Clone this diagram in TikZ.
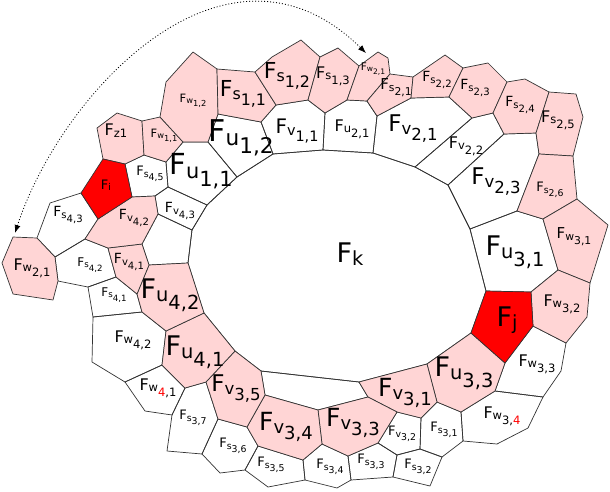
\documentclass[tikz,border=0pt]{standalone}
\usepackage{fontspec}
\setmainfont{DejaVu Sans}
\usepackage{graphicx}
\usetikzlibrary{arrows.meta}
\definecolor{facepink}{RGB}{255,213,213}
\definecolor{edgegray}{RGB}{51,51,51}
\newcommand{\fc}[2]{F\raisebox{-.12em}{\scalebox{.72}{#1\raisebox{-.38em}{#2}}}}

\begin{document}
\begin{tikzpicture}[x=1pt,y=-1pt,
	face/.style={draw=edgegray,line width=0.7pt,line join=round},
	pink/.style={face,fill=facepink},
	hot/.style={face,fill=red},
	lbl/.style={font=\fontsize{#1}{#1}\selectfont,inner sep=0pt}]
\useasboundingbox (0,0) rectangle (610,491);

	\begin{scope}[every path/.style={face}]
		\draw (373,153) -- (415,167) -- (448,185) -- (470,229) -- (486,291) -- (471,333) -- (427,364) -- (359,382) -- (261,371) -- (235,351) -- (204,313) -- (188,263) -- (192,230) -- (207,205) -- (237,177) -- (273,154) -- (323,150) -- cycle;
		\draw (158,214) -- (192,230) -- (188,263) -- (149,265) -- (142,244) -- cycle;
		\draw (261,371) -- (359,382) -- (368,397) -- (318,410) -- (265,395) -- cycle;
		\draw (125,164) -- (144,155) -- (166,162) -- (168,187) -- (155,196) -- (132,197) -- cycle;
		\draw (155,196) -- (168,187) -- (207,205) -- (192,230) -- (158,214) -- cycle;
		\draw (166,162) -- (183,142) -- (208,142) -- (237,177) -- (207,205) -- (168,187) -- cycle;
		\draw (218,114) -- (261,122) -- (273,154) -- (237,177) -- (208,142) -- cycle;
		\draw (261,122) -- (276,105) -- (308,100) -- (325,113) -- (323,150) -- (273,154) -- cycle;
		\draw (325,113) -- (347,100) -- (367,101) -- (377,116) -- (373,153) -- (323,150) -- cycle;
		\draw (377,116) -- (411,98) -- (449,97) -- (472,118) -- (415,167) -- (373,153) -- cycle;
		\draw (415,167) -- (472,118) -- (493,113) -- (504,134) -- (448,185) -- cycle;
		\draw (448,185) -- (504,134) -- (536,133) -- (539,154) -- (517,211) -- (470,229) -- cycle;
		\draw (470,229) -- (517,211) -- (543,219) -- (558,270) -- (531,292) -- (486,291) -- cycle;
		\draw (505,363) -- (533,326) -- (566,343) -- (561,371) -- (543,397) -- (495,391) -- cycle;
		\draw (495,391) -- (543,397) -- (528,428) -- (497,444) -- (463,441) -- (461,412) -- cycle;
		\draw (421,418) -- (437,402) -- (461,412) -- (463,441) -- (442,457) -- (420,449) -- cycle;
		\draw (397,412) -- (421,418) -- (420,449) -- (397,455) -- (378,443) -- cycle;
		\draw (397,455) -- (420,449) -- (442,457) -- (430,486) -- (393,477) -- cycle;
		\draw (378,443) -- (397,455) -- (393,477) -- (351,480) -- (348,456) -- cycle;
		\draw (303,460) -- (322,444) -- (348,456) -- (351,480) -- (337,488) -- (305,480) -- cycle;
		\draw (245,470) -- (258,446) -- (303,460) -- (305,480) -- (268,487) -- cycle;
		\draw (202,454) -- (218,419) -- (247,427) -- (258,446) -- (245,470) -- (220,473) -- cycle;
		\draw (172,415) -- (185,388) -- (206,382) -- (218,419) -- (202,454) -- (167,451) -- cycle;
		\draw (125,382) -- (162,365) -- (185,388) -- (172,415) -- (145,411) -- cycle;
		\draw (93,317) -- (142,312) -- (166,331) -- (162,365) -- (125,382) -- (92,362) -- cycle;
		\draw (88,287) -- (116,277) -- (137,294) -- (142,312) -- (93,317) -- cycle;
		\draw (55,257) -- (85,239) -- (108,248) -- (116,277) -- (88,287) -- (58,281) -- cycle;
		\draw (50,203) -- (81,193) -- (98,219) -- (85,239) -- (55,257) -- (37,238) -- cycle;
	\end{scope}

	\begin{scope}[every path/.style={pink}]
		\draw (97,128) -- (117,113) -- (142,121) -- (144,155) -- (125,164) -- (103,159) -- cycle;
		\draw (142,121) -- (160,117) -- (183,142) -- (166,162) -- (144,155) -- cycle;
		\draw (193,52) -- (217,69) -- (218,114) -- (208,142) -- (183,142) -- (160,117) -- (166,82) -- cycle;
		\draw (217,69) -- (255,72) -- (276,105) -- (261,122) -- (218,114) -- cycle;
		\draw (255,72) -- (272,57) -- (301,40) -- (320,57) -- (308,100) -- (276,105) -- cycle;
		\draw (320,57) -- (338,48) -- (359,66) -- (347,100) -- (325,113) -- (308,100) -- cycle;
		\draw (359,66) -- (378,52) -- (388,58) -- (390,74) -- (367,101) -- (347,100) -- cycle;
		\draw (367,101) -- (390,74) -- (413,77) -- (411,98) -- (377,116) -- cycle;
		\draw (413,77) -- (445,55) -- (463,68) -- (449,97) -- (411,98) -- cycle;
		\draw (463,68) -- (488,63) -- (507,82) -- (493,113) -- (472,118) -- (449,97) -- cycle;
		\draw (507,82) -- (525,79) -- (549,92) -- (536,133) -- (504,134) -- (493,113) -- cycle;
		\draw (549,92) -- (576,94) -- (583,117) -- (573,156) -- (539,154) -- (536,133) -- cycle;
		\draw (539,154) -- (573,156) -- (577,199) -- (543,219) -- (517,211) -- cycle;
		\draw (543,219) -- (577,199) -- (608,225) -- (590,283) -- (558,270) -- cycle;
		\draw (558,270) -- (590,283) -- (587,317) -- (566,343) -- (533,326) -- (531,292) -- cycle;
		\draw (471,333) -- (505,363) -- (495,391) -- (461,412) -- (437,402) -- (427,364) -- cycle;
		\draw (359,382) -- (427,364) -- (437,402) -- (421,418) -- (397,412) -- (368,397) -- cycle;
		\draw (318,410) -- (368,397) -- (397,412) -- (378,443) -- (348,456) -- (322,444) -- cycle;
		\draw (265,395) -- (318,410) -- (322,444) -- (303,460) -- (258,446) -- (247,427) -- cycle;
		\draw (206,382) -- (235,351) -- (261,371) -- (265,395) -- (247,427) -- (218,419) -- cycle;
		\draw (166,331) -- (204,313) -- (235,351) -- (206,382) -- (185,388) -- (162,365) -- cycle;
		\draw (149,265) -- (188,263) -- (204,313) -- (166,331) -- (142,312) -- (137,294) -- cycle;
		\draw (108,248) -- (142,244) -- (149,265) -- (137,294) -- (116,277) -- cycle;
		\draw (98,219) -- (132,197) -- (155,196) -- (158,214) -- (142,244) -- (108,248) -- (85,239) -- cycle;
		\draw (2,263) -- (13,237) -- (37,238) -- (55,257) -- (58,281) -- (53,300) -- (13,294) -- cycle;
	\end{scope}

	\begin{scope}[every path/.style={hot}]
		\draw (103,159) -- (125,164) -- (132,197) -- (98,219) -- (81,193) -- cycle;
		\draw (486,291) -- (531,292) -- (533,326) -- (505,363) -- (471,333) -- cycle;
	\end{scope}

	\node[lbl=27] (Fk) at (350,258) {\fc{k}{}};
	\node[lbl=29] (Fu11) at (201,171) {\fc{u}{1,1}};
	\node[lbl=30] (Fu12) at (241,138) {\fc{u}{1,2}};
	\node[lbl=22] (Fs11) at (243,94) {\fc{s}{1,1}};
	\node[lbl=22] (Fs12) at (287,76) {\fc{s}{1,2}};
	\node[lbl=16] (Fs13) at (333,76) {\fc{s}{1,3}};
	\node[lbl=11.5] (Fw12) at (193,101) {\fc{w}{1,2}};
	\node[lbl=11.5] (Fw11) at (164,136) {\fc{w}{1,1}};
	\node[lbl=16] (Fz1) at (116,133) {\fc{z1}{}};
	\node[lbl=13] (Fs45) at (150,174) {\fc{s}{4,5}};
	\node[lbl=13] (Fi) at (106,187) {\fc{i}{}};
	\node[lbl=14] (Fs43) at (68,215) {\fc{s}{4,3}};
	\node[lbl=14] (Fv42) at (134,218) {\fc{v}{4,2}};
	\node[lbl=14] (Fv43) at (180,211) {\fc{v}{4,3}};
	\node[lbl=16] (Fw21a) at (32,268) {\fc{w}{2,1}};
	\node[lbl=12] (Fs42) at (90,265) {\fc{s}{4,2}};
	\node[lbl=14] (Fv41) at (129,262) {\fc{v}{4,1}};
	\node[lbl=12] (Fs41) at (114,295) {\fc{s}{4,1}};
	\node[lbl=27] (Fu42) at (170,295) {\fc{u}{4,2}};
	\node[lbl=16] (Fw42) at (133,340) {\fc{w}{4,2}};
	\node[lbl=27] (Fu41) at (195,352) {\fc{u}{4,1}};
	\node[lbl=16] (Fw41) at (158,388) {\fc{w}{\textcolor{red}{4},1}};
	\node[lbl=13] (Fs37) at (193,418) {\fc{s}{3,7}};
	\node[lbl=23] (Fv35) at (236,389) {\fc{v}{3,5}};
	\node[lbl=13] (Fs36) at (233,446) {\fc{s}{3,6}};
	\node[lbl=25] (Fv34) at (286,427) {\fc{v}{3,4}};
	\node[lbl=13] (Fs35) at (271,465) {\fc{s}{3,5}};
	\node[lbl=25] (Fv33) at (353,423) {\fc{v}{3,3}};
	\node[lbl=13] (Fs34) at (330,467) {\fc{s}{3,4}};
	\node[lbl=13] (Fs33) at (371,462) {\fc{s}{3,3}};
	\node[lbl=13] (Fv32) at (402,434) {\fc{v}{3,2}};
	\node[lbl=13] (Fs32) at (418,467) {\fc{s}{3,2}};
	\node[lbl=13] (Fs31) at (444,430) {\fc{s}{3,1}};
	\node[lbl=25] (Fv31) at (405,393) {\fc{v}{3,1}};
	\node[lbl=27] (Fu33) at (464,373) {\fc{u}{3,3}};
	\node[lbl=27] (Fj) at (507,322) {\fc{j}{}};
	\node[lbl=16] (Fw34) at (502,416) {\fc{w}{3,\textcolor{red}{4}}};
	\node[lbl=16] (Fw33) at (537,364) {\fc{w}{3,3}};
	\node[lbl=16] (Fw32) at (562,304) {\fc{w}{3,2}};
	\node[lbl=15] (Fw31) at (574,237) {\fc{w}{3,1}};
	\node[lbl=27] (Fu31) at (515,252) {\fc{u}{3,1}};
	\node[lbl=13] (Fs26) at (550,190) {\fc{s}{2,6}};
	\node[lbl=16] (Fs25) at (558,120) {\fc{s}{2,5}};
	\node[lbl=14] (Fs24) at (520,105) {\fc{s}{2,4}};
	\node[lbl=14] (Fs23) at (475,88) {\fc{s}{2,3}};
	\node[lbl=16] (Fv22) at (466,146) {\fc{v}{2,2}};
	\node[lbl=23] (Fv23) at (496,182) {\fc{v}{2,3}};
	\node[lbl=14] (Fs22) at (437,80) {\fc{s}{2,2}};
	\node[lbl=15] (Fs21) at (396,88) {\fc{s}{2,1}};
	\node[lbl=10.5] (Fw21b) at (373,69) {\fc{w}{2,1}};
	\node[lbl=23] (Fv21) at (413,129) {\fc{v}{2,1}};
	\node[lbl=16] (Fu21) at (352,129) {\fc{u}{2,1}};
	\node[lbl=20] (Fv11) at (297,131) {\fc{v}{1,1}};

	\coordinate (wl) at (15,233);
	\coordinate (wt) at (366,53);
	\draw[line width=0.8pt,dash pattern=on 1pt off 2pt,{Latex[length=8pt,width=6pt]}-{Latex[length=8pt,width=6pt]}] (wl) .. controls (60,95) and (225,-85) .. (wt);
\end{tikzpicture}
\end{document}
